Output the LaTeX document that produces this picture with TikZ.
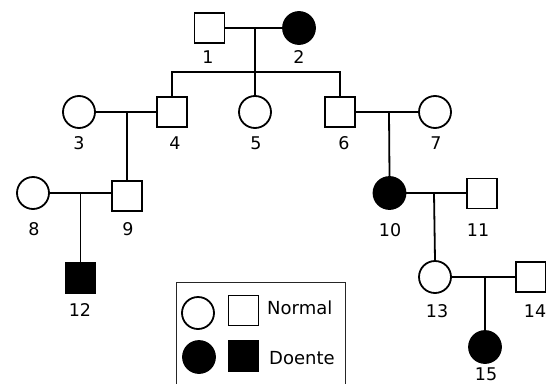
\documentclass[tikz,border=0pt]{standalone}
\usepackage{fontspec}
\setmainfont{DejaVu Sans}
\begin{document}
\begin{tikzpicture}[x=1pt,y=-1pt,
  ln/.style={line width=1.8pt},
  male/.style={draw,rectangle,line width=1.8pt,minimum size=30pt,inner sep=0pt,fill=white},
  female/.style={draw,circle,line width=1.8pt,minimum size=32pt,inner sep=0pt,fill=white},
  aff/.style={fill=black},
  lab/.style={font=\fontsize{17.5}{19}\selectfont,inner sep=0pt},
  legtxt/.style={font=\fontsize{18}{20}\selectfont,inner sep=0pt,anchor=west}]
\useasboundingbox (0,0) rectangle (546,383);
% individuals
\node[male] (p1) at (209.5,28) {};
\node[female,aff] (p2) at (299,28) {};
\node[female] (p3) at (79,112) {};
\node[male] (p4) at (172,112) {};
\node[female] (p5) at (255,112) {};
\node[male] (p6) at (340,112) {};
\node[female] (p7) at (435,112) {};
\node[female] (p8) at (33,193) {};
\node[male] (p9) at (127,196) {};
\node[female,aff] (p10) at (389.5,193) {};
\node[male] (p11) at (482,193.5) {};
\node[male,aff] (p12) at (80.5,278) {};
\node[female] (p13) at (435,277) {};
\node[male] (p14) at (531,277) {};
\node[female,aff] (p15) at (485,347) {};
% labels
\node[lab] (l1) at (208,57) {1};
\node[lab] (l2) at (299,57) {2};
\node[lab] (l3) at (79,143) {3};
\node[lab] (l4) at (175,143) {4};
\node[lab] (l5) at (256,143) {5};
\node[lab] (l6) at (344,143) {6};
\node[lab] (l7) at (436,143) {7};
\node[lab] (l8) at (34,229) {8};
\node[lab] (l9) at (128,229) {9};
\node[lab] (l10) at (390,230) {10};
\node[lab] (l11) at (478,230) {11};
\node[lab] (l12) at (80,310) {12};
\node[lab] (l13) at (437,311) {13};
\node[lab] (l14) at (535,311) {14};
\node[lab] (l15) at (486,374) {15};
% junctions
\coordinate (j12) at (255,28);
\coordinate (s4) at (172,72);
\coordinate (s5) at (255,72);
\coordinate (s6) at (340,72);
\coordinate (j34) at (127,112);
\coordinate (j67) at (389,112);
\coordinate (j89) at (80.5,193);
\coordinate (j1011) at (434,193);
\coordinate (j1314) at (485,277);
% connectors
\draw[ln] (p1.east) -- (p2.west);
\draw[ln] (j12) -- (s5);
\draw[ln] (p4.north) -- (s4) -- (s6) -- (p6.north);
\draw[ln] (s5) -- (p5.north);
\draw[ln] (p3.east) -- (p4.west);
\draw[ln] (j34) -- (p9.north);
\draw[ln] (p6.east) -- (p7.west);
\draw[ln] (j67) -- (p10.north);
\draw[ln] (p8.east) -- (p8.east -| p9.west);
\draw[ln] (j89) -- (p12.north);
\draw[ln] (p10.east) -- (p10.east -| p11.west);
\draw[ln] (j1011) -- (p13.north);
\draw[ln] (p13.east) -- (p14.west);
\draw[ln] (j1314) -- (p15.north);
% legend
\node[draw=black!85,line width=1.3pt,rectangle,minimum width=169pt,minimum height=110pt,anchor=north west,inner sep=0pt] (leg) at (176,282) {};
\node[female] (lgf) at (198,313) {};
\node[male] (lgm) at (243.5,310.5) {};
\node[female,aff] (lgfa) at (199,357) {};
\node[male,aff] (lgma) at (243.5,356) {};
\node[legtxt] (tn) at (267,308) {Normal};
\node[legtxt] (td) at (269,358) {Doente};
\end{tikzpicture}
\end{document}
